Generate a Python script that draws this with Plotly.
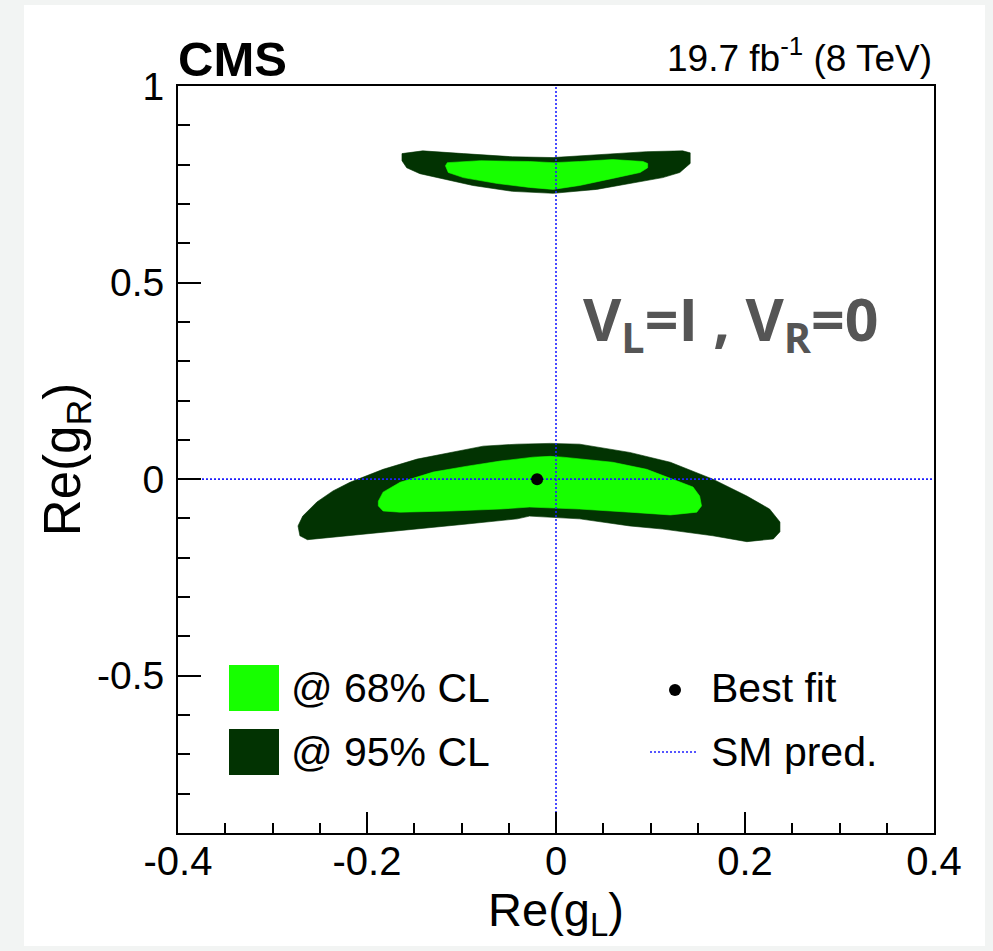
import plotly.graph_objects as go

# 95% CL region, upper band (Re(gL), Re(gR)) boundary
cl95_up_x = [-0.163, -0.141, -0.098, -0.046, -0.003, 0.043, 0.096, 0.134, 0.142, 0.142,
             0.131, 0.113, 0.078, 0.043, -0.003, -0.046, -0.088, -0.115, -0.144, -0.158, -0.163]
cl95_up_y = [0.828, 0.835, 0.828, 0.820, 0.818, 0.825, 0.833, 0.835, 0.830, 0.803,
             0.780, 0.767, 0.752, 0.737, 0.727, 0.732, 0.747, 0.762, 0.777, 0.792, 0.810]

# 68% CL region, upper band
cl68_up_x = [-0.115, -0.080, -0.028, -0.003, 0.025, 0.060, 0.092, 0.097, 0.097, 0.089,
             0.060, 0.025, -0.003, -0.028, -0.062, -0.098, -0.114, -0.117]
cl68_up_y = [0.805, 0.810, 0.808, 0.805, 0.808, 0.813, 0.808, 0.803, 0.792, 0.780,
             0.765, 0.747, 0.737, 0.742, 0.752, 0.767, 0.780, 0.797]

# 95% CL region, lower band
cl95_lo_x = [-0.273, -0.268, -0.253, -0.236, -0.218, -0.183, -0.147, -0.112, -0.077, -0.041,
             -0.006, 0.025, 0.078, 0.121, 0.166, 0.202, 0.226, 0.237, 0.237, 0.230,
             0.202, 0.166, 0.113, 0.078, 0.025, -0.028, -0.041, -0.094, -0.147, -0.200,
             -0.236, -0.263, -0.271]
cl95_lo_y = [-0.119, -0.094, -0.058, -0.030, -0.008, 0.025, 0.051, 0.068, 0.084, 0.089,
             0.091, 0.089, 0.068, 0.043, 0.000, -0.043, -0.076, -0.109, -0.134, -0.152,
             -0.159, -0.144, -0.127, -0.119, -0.101, -0.094, -0.101, -0.114, -0.127, -0.139,
             -0.147, -0.154, -0.144]

# 68% CL region, lower band
cl68_lo_x = [-0.188, -0.183, -0.165, -0.130, -0.094, -0.059, -0.024, -0.006, 0.007, 0.060,
             0.096, 0.124, 0.145, 0.152, 0.154, 0.149, 0.121, 0.078, 0.025, -0.028,
             -0.059, -0.112, -0.165, -0.183, -0.188]
cl68_lo_y = [-0.056, -0.033, -0.008, 0.018, 0.033, 0.046, 0.056, 0.058, 0.056, 0.043,
             0.025, 0.000, -0.020, -0.043, -0.068, -0.084, -0.091, -0.084, -0.076, -0.071,
             -0.076, -0.081, -0.084, -0.081, -0.068]

# best-fit point and SM expectation
best_fit_x = [-0.02]
best_fit_y = [0.0]
sm_gl = 0.0
sm_gr = 0.0

x_range = [-0.4, 0.4]
y_range = [-0.9, 1.0]
x_tickvals = [-0.4, -0.2, 0, 0.2, 0.4]
x_ticktext = ["-0.4", "-0.2", "0", "0.2", "0.4"]
y_tickvals = [-0.5, 0, 0.5, 1]
y_ticktext = ["-0.5", "0", "0.5", "1"]

LIGHT = "#17ff00"
DARK = "#023302"
SM_BLUE = "#1f1fff"
FONT = "Liberation Sans, Arial, Helvetica, sans-serif"

fig = go.Figure()

for xs, ys, col in [(cl95_up_x, cl95_up_y, DARK), (cl95_lo_x, cl95_lo_y, DARK),
                    (cl68_up_x, cl68_up_y, LIGHT), (cl68_lo_x, cl68_lo_y, LIGHT)]:
    fig.add_trace(go.Scatter(x=xs + xs[:1], y=ys + ys[:1], mode="lines", fill="toself",
                             fillcolor=col, line=dict(width=0.6, color=col),
                             hoverinfo="skip", showlegend=False))

# SM prediction lines
fig.add_trace(go.Scatter(x=[sm_gl, sm_gl], y=y_range, mode="lines",
                         line=dict(color=SM_BLUE, width=1.6, dash="2px,2px"),
                         showlegend=False, hoverinfo="skip"))
fig.add_trace(go.Scatter(x=x_range, y=[sm_gr, sm_gr], mode="lines",
                         line=dict(color=SM_BLUE, width=1.6, dash="2px,2px"),
                         showlegend=False, hoverinfo="skip"))

fig.add_trace(go.Scatter(x=best_fit_x, y=best_fit_y, mode="markers",
                         marker=dict(color="black", size=12), showlegend=False))

# plot area geometry in pixels
W, H = 993, 951
L, R, T, B = 178, 59, 86, 118
pw, ph = W - L - R, H - T - B


def px(xp):
    return (xp - L) / pw


def py(yp):
    return (H - B - yp) / ph


shapes = [
    # page background panel
    dict(type="rect", xref="paper", yref="paper", x0=px(24), x1=px(985), y0=py(946), y1=py(5),
         fillcolor="white", line=dict(width=0), layer="below"),
    # legend symbols
    dict(type="rect", xref="paper", yref="paper", x0=px(229), x1=px(279), y0=py(711), y1=py(665),
         fillcolor=LIGHT, line=dict(width=0)),
    dict(type="rect", xref="paper", yref="paper", x0=px(229), x1=px(279), y0=py(775), y1=py(729),
         fillcolor=DARK, line=dict(width=0)),
    dict(type="circle", xref="paper", yref="paper", x0=px(669), x1=px(681), y0=py(696), y1=py(684),
         fillcolor="black", line=dict(width=0)),
    dict(type="line", xref="paper", yref="paper", x0=px(650), x1=px(697), y0=py(752), y1=py(752),
         line=dict(color=SM_BLUE, width=1.6, dash="2px,2px")),
]

annotations = [
    dict(text="<b>CMS</b>", xref="paper", yref="paper", x=px(176), y=py(59), xanchor="left",
         yanchor="middle", showarrow=False, font=dict(family=FONT, size=49, color="black")),
    dict(text="19.7 fb<sup>-1</sup> (8 TeV)", xref="paper", yref="paper", x=px(934), y=py(56),
         xanchor="right", yanchor="middle", showarrow=False,
         font=dict(family=FONT, size=37, color="black")),
    dict(text="<b>V<sub>L</sub>=I , V<sub>R</sub>=0</b>", xref="paper", yref="paper", x=px(581),
         y=py(321), xanchor="left", yanchor="middle", showarrow=False,
         font=dict(family="Open Sans, Lato, sans-serif", size=59, color="#555555")),
    dict(text="@ 68% CL", xref="paper", yref="paper", x=px(289), y=py(688), xanchor="left",
         yanchor="middle", showarrow=False, font=dict(family=FONT, size=41, color="black")),
    dict(text="@ 95% CL", xref="paper", yref="paper", x=px(289), y=py(752), xanchor="left",
         yanchor="middle", showarrow=False, font=dict(family=FONT, size=41, color="black")),
    dict(text="Best fit", xref="paper", yref="paper", x=px(709), y=py(688), xanchor="left",
         yanchor="middle", showarrow=False, font=dict(family=FONT, size=41, color="black")),
    dict(text="SM pred.", xref="paper", yref="paper", x=px(709), y=py(752), xanchor="left",
         yanchor="middle", showarrow=False, font=dict(family=FONT, size=41, color="black")),
]

fig.update_layout(
    width=W, height=H,
    margin=dict(l=L, r=R, t=T, b=B),
    paper_bgcolor="#f2f4f3",
    plot_bgcolor="white",
    font=dict(family=FONT, color="black"),
    shapes=shapes,
    annotations=annotations,
    showlegend=False,
    xaxis=dict(
        range=x_range, tickvals=x_tickvals, ticktext=x_ticktext,
        ticks="inside", ticklen=21, tickwidth=1.5, tickcolor="black",
        minor=dict(dtick=0.05, tick0=0, ticks="inside", ticklen=10, tickwidth=1.5,
                   tickcolor="black", showgrid=False),
        showline=True, linewidth=2, linecolor="black", mirror=True,
        showgrid=False, zeroline=False,
        tickfont=dict(size=40), ticklabelstandoff=-8,
        title=dict(text="Re(g<sub>L</sub>)", font=dict(size=47), standoff=0),
    ),
    yaxis=dict(
        range=y_range, tickvals=y_tickvals, ticktext=y_ticktext,
        ticks="inside", ticklen=23, tickwidth=1.5, tickcolor="black",
        minor=dict(dtick=0.1, tick0=0, ticks="inside", ticklen=12, tickwidth=1.5,
                   tickcolor="black", showgrid=False),
        showline=True, linewidth=2, linecolor="black", mirror=True,
        showgrid=False, zeroline=False,
        tickfont=dict(size=39), ticklabelstandoff=4,
        title=dict(text="Re(g<sub>R</sub>)", font=dict(size=51), standoff=0),
    ),
)

fig.write_html("out.html")
